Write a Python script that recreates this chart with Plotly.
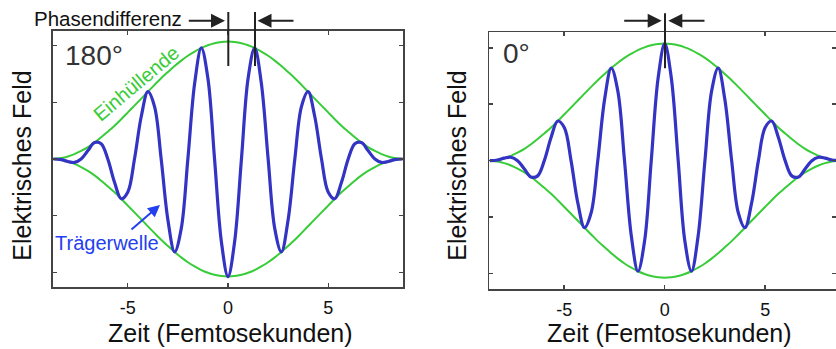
import plotly.graph_objects as go

# ---------------- data ----------------
time_fs = [-8.70, -8.31, -7.98, -7.65, -7.32, -6.98, -6.65, -6.32, -5.99, -5.65,
           -5.32, -4.99, -4.66, -4.32, -3.99, -3.66, -3.33, -2.99, -2.66, -2.33,
           -2.00, -1.66, -1.33, -1.00, -0.67, -0.33, 0.00, 0.33, 0.67, 1.00,
           1.33, 1.66, 2.00, 2.33, 2.66, 2.99, 3.33, 3.66, 3.99, 4.32,
           4.66, 4.99, 5.32, 5.65, 5.99, 6.32, 6.65, 6.98, 7.32, 7.65,
           7.98, 8.31, 8.70]

envelope_upper = [0.000, 0.008, 0.022, 0.043, 0.071, 0.105, 0.145, 0.191, 0.241, 0.294,
                  0.351, 0.411, 0.471, 0.533, 0.594, 0.654, 0.713, 0.768, 0.820, 0.868,
                  0.911, 0.948, 0.980, 1.004, 1.022, 1.033, 1.037, 1.033, 1.022, 1.004,
                  0.980, 0.948, 0.911, 0.868, 0.820, 0.768, 0.713, 0.654, 0.594, 0.533,
                  0.471, 0.411, 0.351, 0.294, 0.241, 0.191, 0.145, 0.105, 0.071, 0.043,
                  0.022, 0.008, 0.000]

envelope_lower = [-0.000, -0.008, -0.022, -0.043, -0.071, -0.105, -0.145, -0.191, -0.241, -0.294,
                  -0.351, -0.411, -0.471, -0.533, -0.594, -0.654, -0.713, -0.768, -0.820, -0.868,
                  -0.911, -0.948, -0.980, -1.004, -1.022, -1.033, -1.037, -1.033, -1.022, -1.004,
                  -0.980, -0.948, -0.911, -0.868, -0.820, -0.768, -0.713, -0.654, -0.594, -0.533,
                  -0.471, -0.411, -0.351, -0.294, -0.241, -0.191, -0.145, -0.105, -0.071, -0.043,
                  -0.022, -0.008, -0.000]

carrier_180 = [0.000, -0.006, -0.022, -0.030, 0.000, 0.074, 0.145, 0.135, 0.000, -0.208,
               -0.351, -0.291, 0.000, 0.377, 0.594, 0.462, 0.000, -0.543, -0.820, -0.614,
               0.000, 0.670, 0.980, 0.710, 0.000, -0.730, -1.037, -0.730, 0.000, 0.710,
               0.980, 0.670, 0.000, -0.614, -0.820, -0.543, 0.000, 0.462, 0.594, 0.377,
               0.000, -0.291, -0.351, -0.208, 0.000, 0.135, 0.145, 0.074, 0.000, -0.030,
               -0.022, -0.006, 0.000]

carrier_0 = [0.000, 0.006, 0.022, 0.030, 0.000, -0.074, -0.145, -0.135, 0.000, 0.208,
             0.351, 0.291, 0.000, -0.377, -0.594, -0.462, 0.000, 0.543, 0.820, 0.614,
             0.000, -0.670, -0.980, -0.710, 0.000, 0.730, 1.037, 0.730, 0.000, -0.710,
             -0.980, -0.670, 0.000, 0.614, 0.820, 0.543, 0.000, -0.462, -0.594, -0.377,
             0.000, 0.291, 0.351, 0.208, 0.000, -0.135, -0.145, -0.074, 0.000, 0.030,
             0.022, 0.006, 0.000]

x_tick_vals = [-5, 0, 5]
x_tick_text = ["-5", "0", "5"]
y_tick_vals = [-1, -0.5, 0, 0.5, 1]

# ---------------- styling ----------------
W, H = 836, 349
FONT = "Liberation Sans, Arial, Helvetica, sans-serif"
GREEN = "#38cc38"
BLUE_LINE = "#3333c4"
BLUE_TEXT = "#2340f0"
AXC = "#444444"

def px(x):
    return x / W

def py(y):
    return 1 - y / H

fig = go.Figure()

for xa, ya, carrier in (("x", "y", carrier_180), ("x2", "y2", carrier_0)):
    fig.add_trace(go.Scatter(x=time_fs, y=envelope_upper, xaxis=xa, yaxis=ya, mode="lines",
                             line=dict(color=GREEN, width=2, shape="spline", smoothing=1.0),
                             showlegend=False, hoverinfo="skip"))
    fig.add_trace(go.Scatter(x=time_fs, y=envelope_lower, xaxis=xa, yaxis=ya, mode="lines",
                             line=dict(color=GREEN, width=2, shape="spline", smoothing=1.0),
                             showlegend=False, hoverinfo="skip"))
    fig.add_trace(go.Scatter(x=time_fs, y=carrier, xaxis=xa, yaxis=ya, mode="lines",
                             line=dict(color=BLUE_LINE, width=3.2, shape="spline", smoothing=1.0),
                             showlegend=False, hoverinfo="skip"))

xaxis_common = dict(showgrid=False, zeroline=False, showline=True, linecolor=AXC, linewidth=1.5,
                    mirror="allticks", ticks="inside", ticklen=4, tickwidth=1.5, tickcolor=AXC,
                    tickvals=x_tick_vals, ticktext=x_tick_text, ticklabelstandoff=4,
                    tickfont=dict(family=FONT, size=18, color="#111111"), automargin=False)
yaxis_common = dict(showgrid=False, zeroline=False, showline=True, linecolor=AXC, linewidth=1.5,
                    mirror="allticks", ticks="inside", ticklen=4, tickwidth=1.5, tickcolor=AXC,
                    tickvals=y_tick_vals, showticklabels=False, automargin=False)

fig.update_layout(
    width=W, height=H,
    margin=dict(l=0, r=0, t=0, b=0),
    paper_bgcolor="white", plot_bgcolor="white",
    font=dict(family=FONT, color="#111111"),
    xaxis=dict(xaxis_common, domain=[px(52.7), px(403.3)], range=[-8.735, 8.735], anchor="y"),
    yaxis=dict(yaxis_common, domain=[py(287.3), py(30.7)], range=[-1.132, 1.132], anchor="x"),
    xaxis2=dict(xaxis_common, domain=[px(489.3), 1.0], range=[-8.726, 8.52], anchor="y2"),
    yaxis2=dict(yaxis_common, domain=[py(289.3), py(32)], range=[-1.14, 1.14], anchor="x2"),
)

ann = []
# axis titles
for xc in (21.7, 456.7):
    ann.append(dict(text="Elektrisches Feld", xref="paper", yref="paper", x=px(xc), y=py(166),
                    textangle=-90, showarrow=False, xanchor="center", yanchor="middle",
                    font=dict(family=FONT, size=25, color="#111111")))
for xc in (230, 669):
    ann.append(dict(text="Zeit (Femtosekunden)", xref="paper", yref="paper", x=px(xc), y=py(333),
                    showarrow=False, xanchor="center", yanchor="middle",
                    font=dict(family=FONT, size=25, color="#111111")))
# phase labels
ann.append(dict(text="180°", xref="paper", yref="paper", x=px(63), y=py(55), showarrow=False,
                xanchor="left", yanchor="middle", font=dict(family=FONT, size=28, color="#333333")))
ann.append(dict(text="0°", xref="paper", yref="paper", x=px(500.5), y=py(53), showarrow=False,
                xanchor="left", yanchor="middle", font=dict(family=FONT, size=28, color="#333333")))
ann.append(dict(text="Phasendifferenz", xref="paper", yref="paper", x=px(108), y=py(18.5),
                showarrow=False, xanchor="center", yanchor="middle",
                font=dict(family=FONT, size=20.5, color="#111111")))
ann.append(dict(text="Einhüllende", xref="paper", yref="paper", x=px(136.7), y=py(83.3),
                showarrow=False, xanchor="center", yanchor="middle", textangle=-40,
                font=dict(family=FONT, size=20, color=GREEN)))
ann.append(dict(text="Trägerwelle", xref="paper", yref="paper", x=px(107.5), y=py(243),
                showarrow=False, xanchor="center", yanchor="middle",
                font=dict(family=FONT, size=20, color=BLUE_TEXT)))
# blue arrow to carrier
ann.append(dict(text="", xref="paper", yref="paper", x=px(160), y=py(205), ax=-30, ay=25.7,
                showarrow=True, arrowhead=2, arrowsize=1.2, arrowwidth=2, arrowcolor=BLUE_TEXT,
                standoff=0))
# black arrows
for hx, dx in ((225, -37.7), (257.5, 37.5), (661.7, -39), (668.3, 37.7)):
    ann.append(dict(text="", xref="paper", yref="paper", x=px(hx), y=py(20.7), ax=dx, ay=0,
                    showarrow=True, arrowhead=2, arrowsize=1.4, arrowwidth=2, arrowcolor="#222222",
                    standoff=0))
fig.update_layout(annotations=ann)

shapes = []
for xv, y0, y1 in ((228.3, 66, 12), (255, 66, 12), (665, 68.3, 13.3)):
    shapes.append(dict(type="line", xref="paper", yref="paper", x0=px(xv), x1=px(xv),
                       y0=py(y0), y1=py(y1), line=dict(color="#222222", width=2)))
fig.update_layout(shapes=shapes)

fig.write_html("out.html",
               config={"displayModeBar": False, "staticPlot": True},
               post_script="document.body.style.margin='0px';document.body.style.overflow='hidden';")
